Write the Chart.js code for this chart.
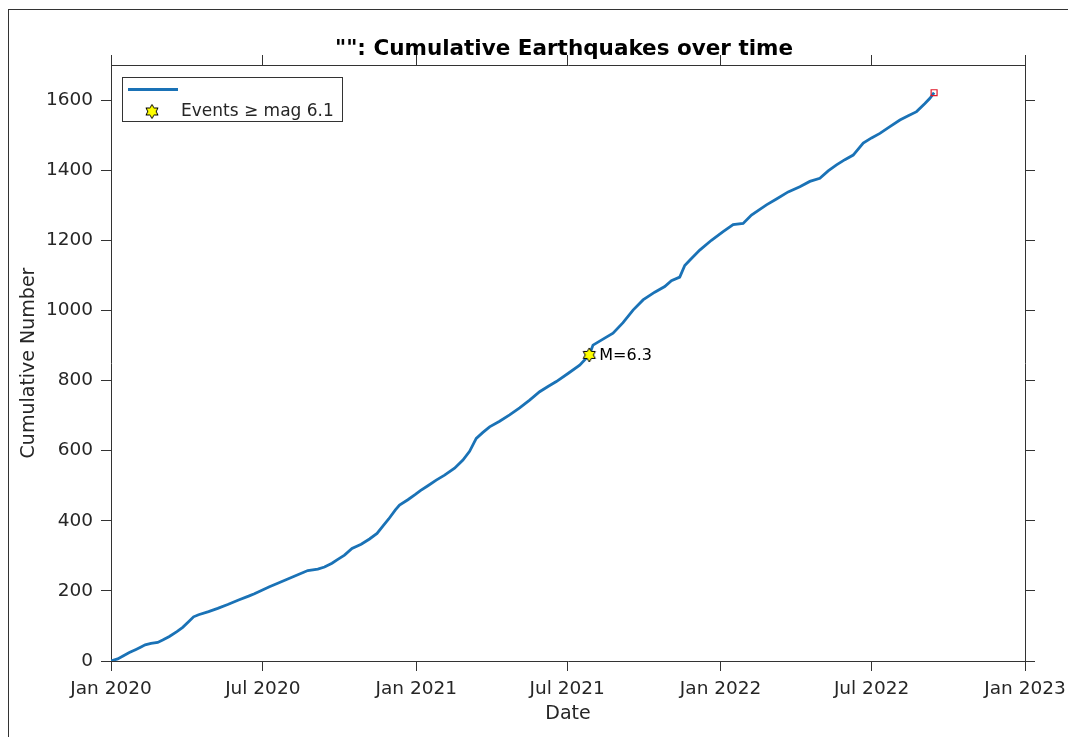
<!DOCTYPE html>
<html>
<head>
<meta charset="utf-8">
<script src="https://cdn.jsdelivr.net/npm/chart.js@4"></script>
<style>
    html, body { margin: 0; padding: 0; background: #fff; overflow: hidden; }
    .frame {
        position: absolute; left: 8px; top: 9px;
        width: 1200px; height: 900px;
        border: 1px solid #333;
    }
    #quakeChart { position: absolute; left: 0; top: 0; }
</style>
</head>
<body>
<div class="frame"></div>
<canvas id="quakeChart" width="1068" height="737"></canvas>
<script>
// Days since 1 Jan 2020 and the cumulative count
const eventDays = [
    0, 8, 15, 22, 30, 36, 41, 48, 56, 62, 70, 79, 86, 93, 99, 105, 117, 128, 140, 153,
    165, 172, 181, 190, 200, 212, 224, 236, 248, 256, 265, 272, 280, 289, 300, 310, 319, 326, 333, 341,
    346, 356, 365, 371, 380, 390, 400, 412, 422, 430, 438, 446, 454, 466, 478, 490, 502, 514, 524, 534,
    548, 562, 573.5, 578, 590, 602, 614, 626, 638, 652, 664, 672, 682, 688, 694, 706, 720, 734, 746, 758,
    768, 786, 798, 812, 826, 838, 850, 860, 870, 880, 890, 902, 912, 922, 934, 946, 956, 966, 976, 982, 987
];
const cumulativeCounts = [
    0, 6, 15, 24, 33, 40, 46, 50, 53, 60, 70, 84, 96, 112, 126, 132, 141, 150, 161, 174,
    185, 192, 202, 212, 222, 234, 246, 258, 262, 268, 279, 290, 302, 321, 333, 348, 364, 385, 405, 431,
    445, 460, 475, 486, 500, 516, 530, 550, 573, 598, 635, 652, 668, 684, 702, 722, 744, 768, 783, 797,
    820, 844, 873, 901, 918, 935, 965, 1001, 1030, 1052, 1068, 1085, 1095, 1128, 1143, 1172, 1200, 1225, 1245, 1248,
    1272, 1301, 1318, 1338, 1353, 1368, 1377, 1398, 1415, 1430, 1443, 1477, 1492, 1505, 1524, 1543, 1555, 1567, 1590, 1605, 1621
];

// Large event (M >= 6.1)
const bigEventDay = [573.5];
const bigEventCount = [873];
const bigEventLabel = ['M=6.3'];

// Tick positions (days since 1 Jan 2020) and labels
const xTickDays = [0, 182, 366, 547, 731, 912, 1096];
const xTickLabels = ['Jan 2020', 'Jul 2020', 'Jan 2021', 'Jul 2021', 'Jan 2022', 'Jul 2022', 'Jan 2023'];
const yTicks = [0, 200, 400, 600, 800, 1000, 1200, 1400, 1600];

const chartTitle = '"": Cumulative Earthquakes over time';
const legendText = 'Events \u2265 mag 6.1';

const axisColor = '#333';
const textColor = '#262626';
const lineColor = '#1a72b6';
const fontFamily = '"DejaVu Sans", sans-serif';

// six-pointed star marker like MATLAB's hexagram
function makeHexagram(size) {
    const c = document.createElement('canvas');
    c.width = size; c.height = size;
    const g = c.getContext('2d');
    const cx = size / 2, cy = size / 2;
    const R = size / 2 - 1, r = R / Math.sqrt(3);
    g.beginPath();
    for (let i = 0; i < 12; i++) {
        const ang = -Math.PI / 2 + i * Math.PI / 6;
        const rad = i % 2 === 0 ? R : r;
        const px = cx + rad * Math.cos(ang), py = cy + rad * Math.sin(ang);
        if (i === 0) g.moveTo(px, py); else g.lineTo(px, py);
    }
    g.closePath();
    g.fillStyle = '#ffff00';
    g.fill();
    g.strokeStyle = '#000';
    g.lineWidth = 1;
    g.stroke();
    return c;
}
const starImg = makeHexagram(16);

const curvePoints = eventDays.map((d, i) => ({ x: d, y: cumulativeCounts[i] }));
const lastIdx = eventDays.length - 1;

const setXTicks = scale => { scale.ticks = xTickDays.map(v => ({ value: v })); };
const setYTicks = scale => { scale.ticks = yTicks.map(v => ({ value: v })); };
// fixed box sizes so the axes sit where MATLAB put them
const fitX = h => s => { s.height = h; s.paddingLeft = 0; s.paddingRight = 0; };
const fitY = w => s => { s.width = w; s.paddingTop = 0; s.paddingBottom = 0; };

const gridOpts = {
    drawOnChartArea: false,
    drawTicks: true,
    tickLength: 10,
    color: axisColor,
    tickColor: axisColor,
    lineWidth: 1
};
const borderOpts = { display: true, color: axisColor, width: 1 };

// title, big event label and the legend box
const decorations = {
    id: 'decorations',
    afterDraw(chart) {
        const { ctx, chartArea, scales } = chart;
        ctx.save();

        ctx.font = 'bold 21.5px ' + fontFamily;
        ctx.fillStyle = '#000';
        ctx.textAlign = 'center';
        ctx.textBaseline = 'alphabetic';
        ctx.fillText(chartTitle, (chartArea.left + chartArea.right) / 2 - 4, 55);

        ctx.font = '16px ' + fontFamily;
        ctx.fillStyle = '#000';
        ctx.textAlign = 'left';
        ctx.textBaseline = 'middle';
        bigEventDay.forEach((d, i) => {
            const px = scales.x.getPixelForValue(d);
            const py = scales.y.getPixelForValue(bigEventCount[i]);
            ctx.fillText(bigEventLabel[i], px + 10, py + 1);
        });

        // legend
        ctx.fillStyle = '#fff';
        ctx.fillRect(122.5, 77.5, 220, 44);
        ctx.strokeStyle = axisColor;
        ctx.lineWidth = 1;
        ctx.strokeRect(122.5, 77.5, 220, 44);
        ctx.strokeStyle = lineColor;
        ctx.lineWidth = 3;
        ctx.beginPath();
        ctx.moveTo(128, 89.5);
        ctx.lineTo(178, 89.5);
        ctx.stroke();
        ctx.drawImage(starImg, 152 - 8, 111.5 - 8);
        ctx.font = '17px ' + fontFamily;
        ctx.fillStyle = textColor;
        ctx.fillText(legendText, 181, 112);

        ctx.restore();
    }
};

new Chart(document.getElementById('quakeChart'), {
    type: 'line',
    data: {
        datasets: [
            {
                label: '',
                data: curvePoints,
                borderColor: lineColor,
                borderWidth: 2.8,
                pointRadius: 0,
                tension: 0,
                fill: false,
                order: 2
            },
            {
                label: legendText,
                data: bigEventDay.map((d, i) => ({ x: d, y: bigEventCount[i] })),
                showLine: false,
                pointStyle: starImg,
                pointRadius: 8,
                order: 1
            },
            {
                label: 'last',
                data: [{ x: eventDays[lastIdx], y: cumulativeCounts[lastIdx] }],
                showLine: false,
                pointStyle: 'rect',
                pointRadius: 4.2,
                pointBorderColor: '#e0182a',
                pointBackgroundColor: 'rgba(255,255,255,0)',
                pointBorderWidth: 1.2,
                order: 0
            }
        ]
    },
    options: {
        responsive: false,
        animation: false,
        events: [],
        layout: { padding: 0 },
        plugins: {
            legend: { display: false },
            title: { display: false },
            tooltip: { enabled: false }
        },
        scales: {
            x: {
                type: 'linear',
                position: 'bottom',
                min: 0,
                max: 1096,
                afterBuildTicks: setXTicks,
                afterFit: fitX(76),
                grid: gridOpts,
                border: borderOpts,
                ticks: {
                    color: textColor,
                    padding: 7,
                    maxRotation: 0,
                    autoSkip: false,
                    font: { family: fontFamily, size: 18.5 },
                    callback: v => xTickLabels[xTickDays.indexOf(v)]
                },
                title: {
                    display: true,
                    text: 'Date',
                    color: textColor,
                    font: { family: fontFamily, size: 19 },
                    padding: { top: 0, bottom: 12 }
                }
            },
            x2: {
                type: 'linear',
                position: 'top',
                min: 0,
                max: 1096,
                afterBuildTicks: setXTicks,
                afterFit: fitX(65),
                grid: gridOpts,
                border: borderOpts,
                ticks: { display: false }
            },
            y: {
                type: 'linear',
                position: 'left',
                min: 0,
                max: 1700,
                afterBuildTicks: setYTicks,
                afterFit: fitY(111),
                grid: gridOpts,
                border: borderOpts,
                ticks: {
                    color: textColor,
                    padding: 8,
                    font: { family: fontFamily, size: 18.5 },
                    callback: v => String(v)
                },
                title: {
                    display: true,
                    text: 'Cumulative Number',
                    color: textColor,
                    font: { family: fontFamily, size: 19 },
                    padding: { top: 17.6, bottom: 0 }
                }
            },
            y2: {
                type: 'linear',
                position: 'right',
                min: 0,
                max: 1700,
                afterBuildTicks: setYTicks,
                afterFit: fitY(43),
                grid: gridOpts,
                border: borderOpts,
                ticks: { display: false }
            }
        }
    },
    plugins: [decorations]
});
</script>
</body>
</html>
